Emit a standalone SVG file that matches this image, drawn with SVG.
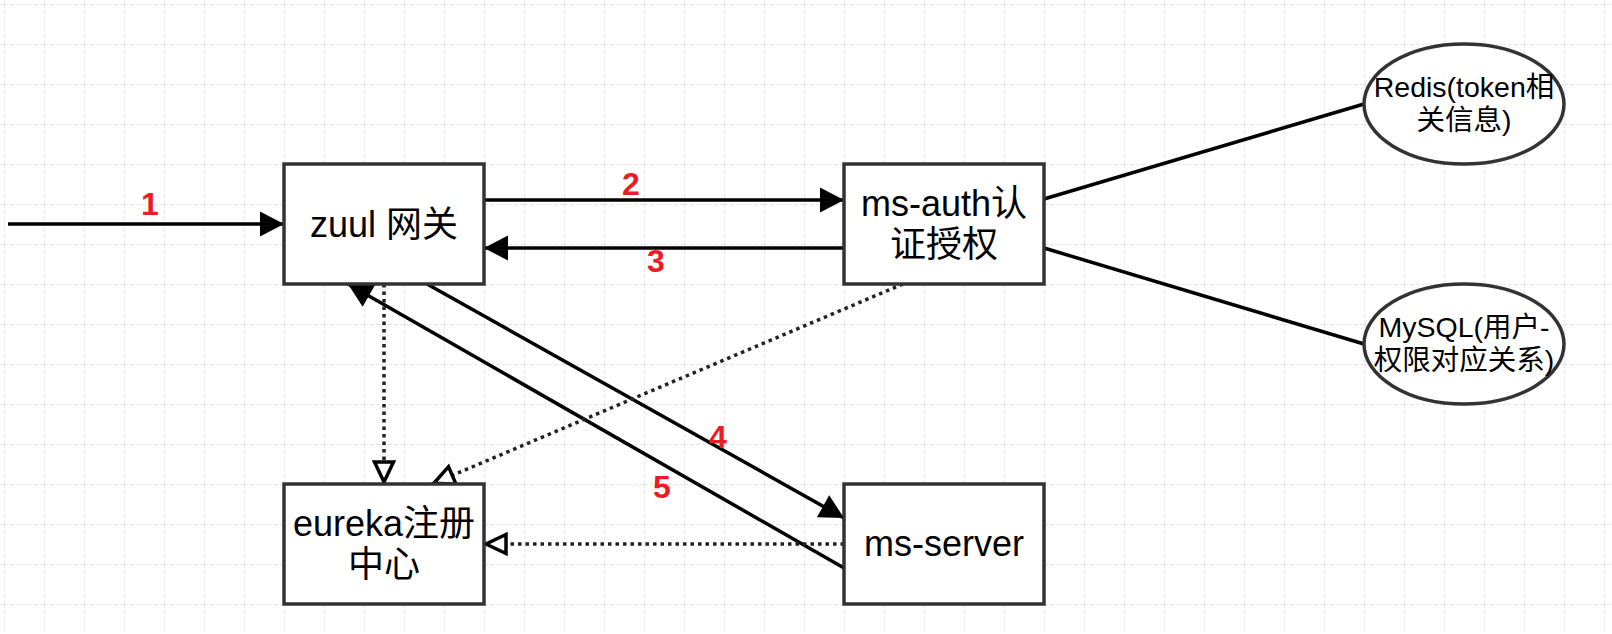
<svg xmlns="http://www.w3.org/2000/svg" width="1612" height="634" viewBox="0 0 1612 634">
  <defs>
    <pattern id="grid" x="4" y="4" width="40" height="40" patternUnits="userSpaceOnUse">
      <path d="M0,0 H40 M0,0 V40" fill="none" stroke="#dedeea" stroke-width="1.3" stroke-dasharray="4 2"/>
    </pattern>
    <marker id="arrowFilled" markerUnits="userSpaceOnUse" markerWidth="30" markerHeight="30" refX="24" refY="12.5" orient="auto" overflow="visible">
      <path d="M0,0 L24,12.5 L0,25 Z" fill="#000"/>
    </marker>
    <marker id="arrowOpen" markerUnits="userSpaceOnUse" markerWidth="30" markerHeight="30" refX="24" refY="11" orient="auto" overflow="visible">
      <path d="M2,1.5 L22,11 L2,20.5 Z" fill="#fff" stroke="#000" stroke-width="3.5"/>
    </marker>
    <style>
      .box { fill: #fff; stroke: #333; stroke-width: 3.5; }
      .txt { font-family: "Liberation Sans", Arial, "Noto Sans CJK SC", sans-serif; font-size: 36px; fill: #000; text-anchor: middle; }
      .etxt { font-family: "Liberation Sans", Arial, "Noto Sans CJK SC", sans-serif; font-size: 28.5px; fill: #000; text-anchor: middle; }
      .lbl { font-family: "Liberation Sans", Arial, sans-serif; font-size: 32px; font-weight: bold; fill: #ea1c24; text-anchor: middle; }
      .solid { fill: none; stroke: #000; stroke-width: 3.5; }
      .dot { fill: none; stroke: #222; stroke-width: 3.5; stroke-dasharray: 3.5 4; }
    </style>
  </defs>

  <rect width="1612" height="634" fill="#fff"/>
  <rect width="1612" height="634" fill="url(#grid)"/>

  <g id="connectors">
    <path class="solid" d="M8,224 L284,224" marker-end="url(#arrowFilled)"/>
    <path class="solid" d="M484,200 L844,200" marker-end="url(#arrowFilled)"/>
    <path class="solid" d="M844,248 L484,248" marker-end="url(#arrowFilled)"/>
    <path class="solid" d="M1044,199 L1364,104"/>
    <path class="solid" d="M1044,248 L1364,344"/>
    <path class="solid" d="M427,284 L844,518" marker-end="url(#arrowFilled)"/>
    <path class="solid" d="M844,568 L348,284" marker-end="url(#arrowFilled)"/>
    <path class="dot" d="M384,284 L384,484" marker-end="url(#arrowOpen)"/>
    <path class="dot" d="M903,284 L432,484" marker-end="url(#arrowOpen)"/>
    <path class="dot" d="M844,544 L484,544" marker-end="url(#arrowOpen)"/>
  </g>

  <g id="labels">
    <text class="lbl" x="150" y="215">1</text>
    <text class="lbl" x="631" y="195">2</text>
    <text class="lbl" x="656" y="272">3</text>
    <text class="lbl" x="718" y="448">4</text>
    <text class="lbl" x="662" y="498">5</text>
  </g>

  <g id="zuul">
    <rect class="box" x="284" y="164" width="200" height="120"/>
    <text class="txt" x="384" y="237">zuul 网关</text>
  </g>

  <g id="ms-auth">
    <rect class="box" x="844" y="164" width="200" height="120"/>
    <text class="txt" x="944" y="216">ms-auth认</text>
    <text class="txt" x="944" y="257">证授权</text>
  </g>

  <g id="eureka">
    <rect class="box" x="284" y="484" width="200" height="120"/>
    <text class="txt" x="384" y="536">eureka注册</text>
    <text class="txt" x="384" y="577">中心</text>
  </g>

  <g id="ms-server">
    <rect class="box" x="844" y="484" width="200" height="120"/>
    <text class="txt" x="944" y="556">ms-server</text>
  </g>

  <g id="redis">
    <ellipse class="box" cx="1464" cy="104" rx="100" ry="60"/>
    <text class="etxt" x="1464" y="97">Redis(token相</text>
    <text class="etxt" x="1464" y="130">关信息)</text>
  </g>

  <g id="mysql">
    <ellipse class="box" cx="1464" cy="344" rx="100" ry="60"/>
    <text class="etxt" x="1464" y="337">MySQL(用户-</text>
    <text class="etxt" x="1464" y="370">权限对应关系)</text>
  </g>
</svg>
